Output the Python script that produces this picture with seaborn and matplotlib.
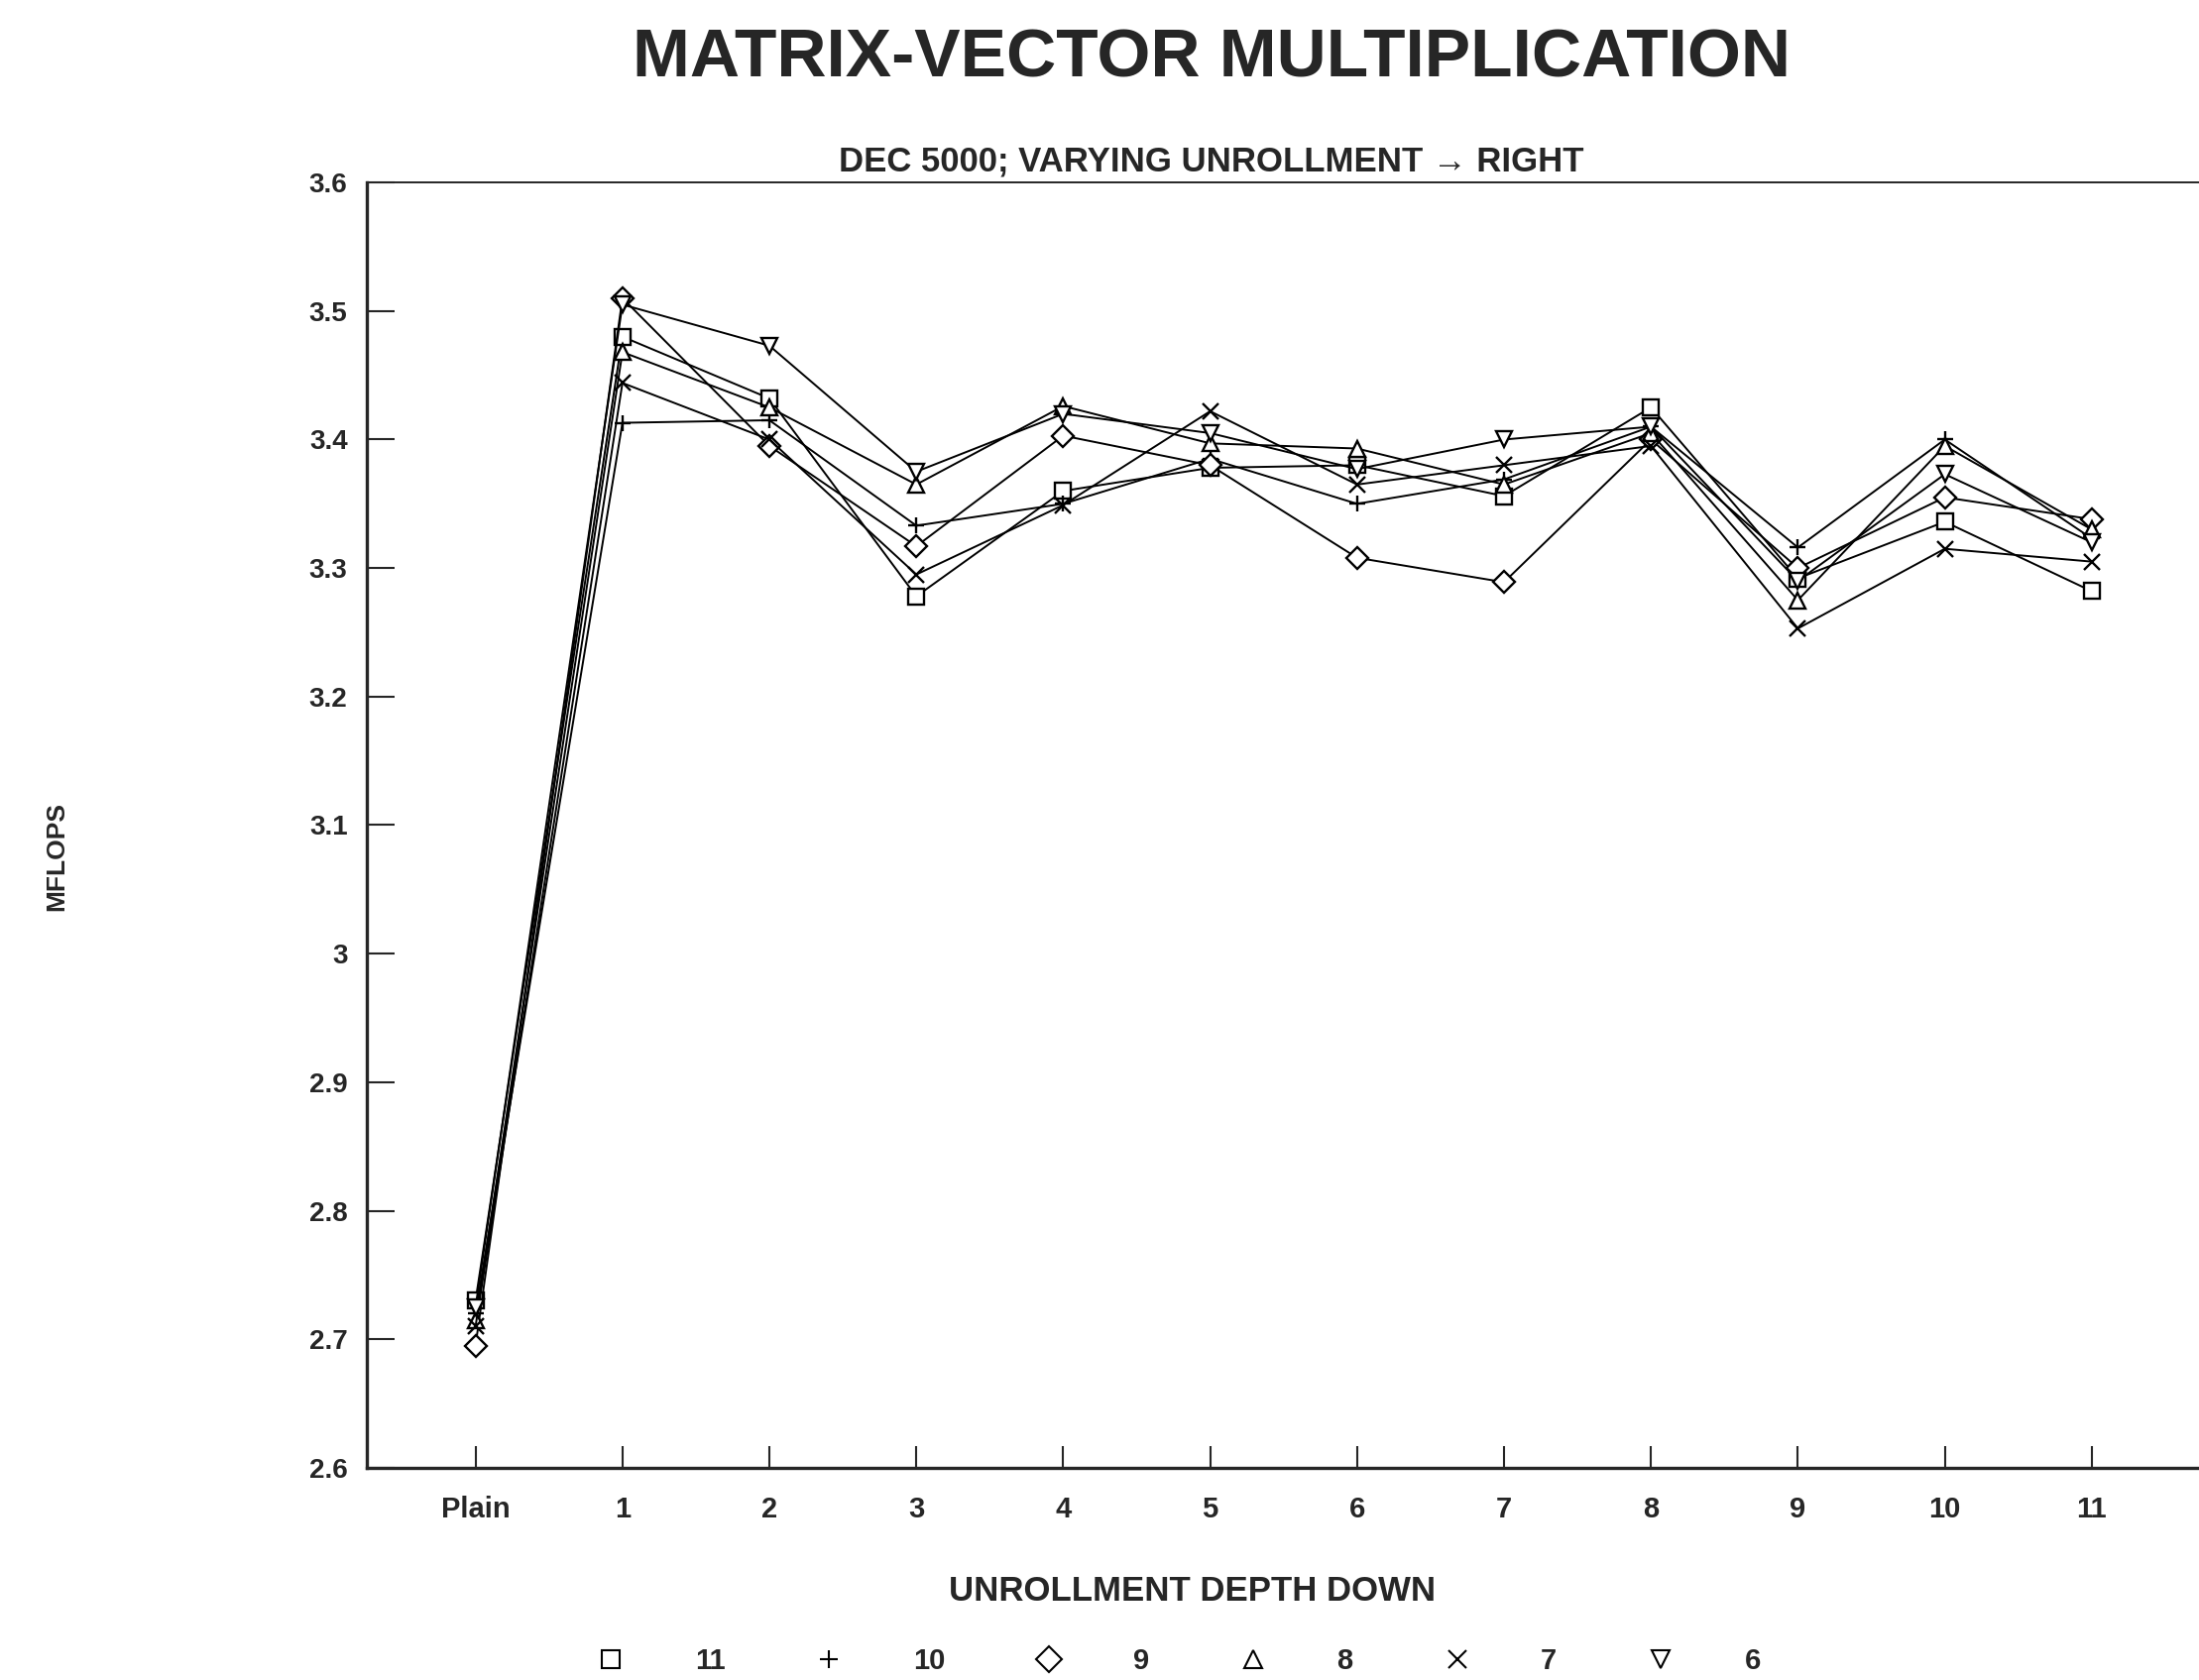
import numpy as np
import pandas as pd
import seaborn as sns
import matplotlib
matplotlib.use("Agg")
import matplotlib.pyplot as plt
from matplotlib.lines import Line2D

# Categories on the x axis
depth_labels = ["Plain", "1", "2", "3", "4", "5", "6", "7", "8", "9", "10", "11"]

# MFLOPS per right-unrollment setting
mflops_11 = [2.730, 3.480, 3.432, 3.278, 3.360, 3.378, 3.380, 3.356, 3.425, 3.292, 3.336, 3.282]
mflops_10 = [2.720, 3.413, 3.415, 3.333, 3.350, 3.385, 3.350, 3.369, 3.410, 3.316, 3.400, 3.323]
mflops_9 = [2.695, 3.510, 3.395, 3.317, 3.403, 3.380, 3.308, 3.289, 3.400, 3.300, 3.355, 3.338]
mflops_8 = [2.715, 3.468, 3.425, 3.365, 3.426, 3.397, 3.393, 3.365, 3.405, 3.275, 3.395, 3.330]
mflops_7 = [2.710, 3.444, 3.400, 3.295, 3.349, 3.422, 3.365, 3.380, 3.395, 3.253, 3.315, 3.305]
mflops_6 = [2.725, 3.505, 3.473, 3.375, 3.420, 3.405, 3.377, 3.400, 3.410, 3.290, 3.373, 3.320]

series_names = ["11", "10", "9", "8", "7", "6"]
series_values = [mflops_11, mflops_10, mflops_9, mflops_8, mflops_7, mflops_6]
marker_map = {"11": "s", "10": "+", "9": "D", "8": "^", "7": "x", "6": "v"}

rows = []
for name, vals in zip(series_names, series_values):
    for i, v in enumerate(vals):
        rows.append({"pos": i, "depth": name, "mflops": v})
df = pd.DataFrame(rows)

sns.set_style("ticks")
font = ["Liberation Sans", "DejaVu Sans"]
plt.rcParams["font.family"] = font

fig = plt.figure(figsize=(22.18, 16.95), dpi=100)
ax = fig.add_axes([0.1668, 0.1263, 0.8332, 0.7651])

# one lineplot per series (filled and line-art markers can't share a style map)
for name in series_names:
    sub = df[df["depth"] == name]
    sns.lineplot(
        data=sub, x="pos", y="mflops", color="black", legend=False,
        estimator=None, sort=False, linewidth=1.4, marker=marker_map[name],
        markersize=11, markerfacecolor="white", markeredgecolor="black",
        markeredgewidth=1.7, ax=ax,
    )

ax.set_xlim(-0.74, 11.73)
ax.set_ylim(2.6, 3.6)
ax.set_xticks(range(len(depth_labels)))
ax.set_xticklabels(depth_labels, fontsize=21, fontweight="bold")
yticks = np.round(np.arange(2.6, 3.61, 0.1), 1)
ax.set_yticks(yticks)
ax.set_yticklabels([f"{t:g}" for t in yticks], fontsize=20, fontweight="bold")
ax.tick_params(axis="y", direction="in", length=20, width=1.5, pad=14)
ax.tick_params(axis="x", direction="in", length=16, width=1.5, pad=20)
ax.set_xlabel("")
ax.set_ylabel("")

ax.spines["right"].set_visible(False)
ax.spines["left"].set_linewidth(2.4)
ax.spines["bottom"].set_linewidth(2.4)
ax.spines["top"].set_linewidth(1.4)

fig.text(0.551, 0.965, "MATRIX-VECTOR MULTIPLICATION", ha="center", va="center",
         fontsize=50, fontweight="bold")
fig.text(0.551, 0.904, "DEC 5000; VARYING UNROLLMENT \u2192 RIGHT", ha="center", va="center",
         fontsize=25, fontweight="bold")
fig.text(0.542, 0.053, "UNROLLMENT DEPTH DOWN", ha="center", va="center",
         fontsize=25, fontweight="bold")
fig.text(0.026, 0.490, "MFLOPS", ha="center", va="center", rotation=90,
         fontsize=19, fontweight="bold")

handles = [Line2D([], [], linestyle="none", marker=marker_map[n], markersize=13,
                  markerfacecolor="white", markeredgecolor="black", markeredgewidth=1.5)
           for n in series_names]
fig.legend(handles, series_names, loc="center", bbox_to_anchor=(0.536, 0.011), ncol=6,
           frameon=False, handletextpad=2.4, columnspacing=3.1, handlelength=1.0,
           prop={"size": 21, "weight": "bold"})

fig.savefig("out.png", dpi=100)
